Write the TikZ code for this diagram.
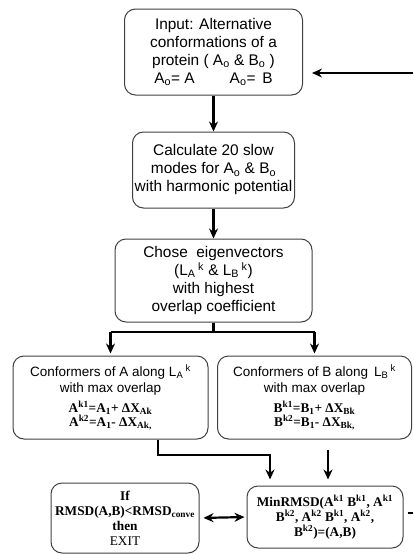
\documentclass[tikz,border=0pt]{standalone}
\usepackage{fontspec}
\setmainfont{Liberation Sans}
\newfontfamily\timesf{Liberation Serif}
\usetikzlibrary{arrows.meta}

\newcommand\bigsans{\fontsize{15.4}{18}\selectfont}
\newcommand\smallsans{\fontsize{13.5}{16}\selectfont}
\newcommand\formula{\timesf\bfseries\fontsize{13.3}{15}\selectfont}

\begin{document}
\begin{tikzpicture}[x=1pt,y=-1pt,
  box/.style={draw=black!75, line width=1pt, rounded corners=11pt, align=center, inner sep=0pt},
  arr/.style={-{Stealth[length=10pt,width=9pt]}, line width=2.2pt},
  link/.style={line width=2.2pt}]
\useasboundingbox (0,0) rectangle (413,554);
% Input
\node[box, minimum width=178pt, minimum height=86pt, font=\bigsans] (input) at (213.5,52)
  {Input: Alternative\\conformations of a\\protein ( A\textsubscript{o} \& B\textsubscript{o} )\\A\textsubscript{o}= A \qquad A\textsubscript{o}= \,B};
\coordinate (back) at (413,73);
\draw[arr, shorten >=9pt] (back) -- (input.east |- back);
% Slow modes
\node[box, minimum width=162pt, minimum height=76pt, font=\bigsans] (modes) at (213.5,170)
  {Calculate 20 slow\\modes for A\textsubscript{o} \& B\textsubscript{o}\\with harmonic potential};
\draw[arr] (input.south) -- (modes.north);
% Eigenvectors
\node[box, minimum width=197pt, minimum height=83pt, font=\bigsans] (chose) at (213.5,280.5)
  {Chose\ \ eigenvectors\\(L\textsubscript{A}\,\textsuperscript{k} \& L\textsubscript{B}\,\textsuperscript{k})\\with highest\\overlap coefficient};
\draw[arr] (modes.south) -- (chose.north);
% Conformers of A and B
\node[box, minimum width=195pt, minimum height=83pt, font=\smallsans] (confA) at (110.5,397.5)
  {Conformers of A along L\textsubscript{A}\,\textsuperscript{k}\\with max overlap\\[4pt]
   {\formula A\textsuperscript{k1}=A\textsubscript{1}+ ΔX\textsubscript{Ak}}\\[-2pt]
   {\formula A\textsuperscript{k2}=A\textsubscript{1}- ΔX\textsubscript{Ak,}}};
\node[box, minimum width=194pt, minimum height=83pt, font=\smallsans] (confB) at (314.5,397.5)
  {Conformers of B along\, L\textsubscript{B}\,\textsuperscript{k}\\with max overlap\\[4pt]
   {\formula B\textsuperscript{k1}=B\textsubscript{1}+ ΔX\textsubscript{Bk}}\\[-2pt]
   {\formula B\textsuperscript{k2}=B\textsubscript{1}- ΔX\textsubscript{Bk,}}};
\coordinate (split) at (213.5,332);
\draw[link] (chose.south) -- (split);
\draw[link] (confA.north |- split) -- (confB.north |- split);
\draw[arr, shorten >=2pt] (confA.north |- split) -- (confA.north);
\draw[arr, shorten >=2pt] (confB.north |- split) -- (confB.north);
% Min RMSD
\node[box, minimum width=156pt, minimum height=62pt, font=\formula] (minr) at (325,517)
  {MinRMSD(A\textsuperscript{k1} B\textsuperscript{k1}, A\textsuperscript{k1}\\B\textsuperscript{k2}, A\textsuperscript{k2} B\textsuperscript{k1}, A\textsuperscript{k2},\\B\textsuperscript{k2})=(A,B)};
\coordinate (elbow) at (158,455);
\draw[arr, shorten >=6pt] (elbow |- confA.south) -- (elbow) -| ([xshift=-55pt]minr.north);
\draw[arr, shorten <=10pt, shorten >=6pt] ([xshift=3pt]minr.north |- confB.south) -- ([xshift=3pt]minr.north);
\coordinate (loop) at (413,513);
\draw[link, shorten <=4pt] (minr.east |- loop) -- (loop);
% Exit test
\node[box, minimum width=148pt, minimum height=70pt, font=\formula] (exit) at (125,518)
  {If\\RMSD(A,B)<RMSD\textsubscript{conve}\\then\\{\mdseries EXIT}};
\draw[{Stealth[length=10pt,width=9pt]}-{Stealth[length=10pt,width=9pt]}, line width=2.2pt, shorten <=4pt, shorten >=2pt] (exit.east) -- (minr.west);
\end{tikzpicture}
\end{document}
